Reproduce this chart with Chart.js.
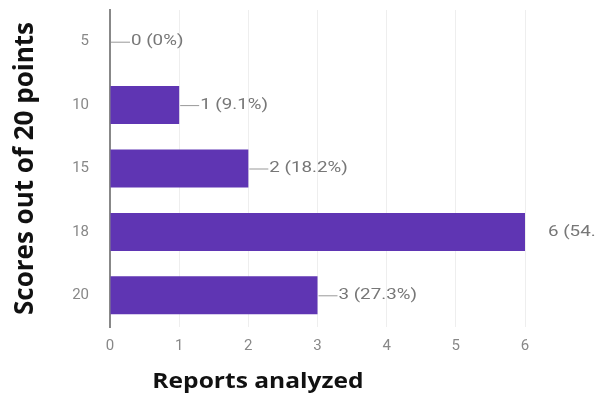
<!doctype html>
<html lang="en">
<head>
    <meta charset="UTF-8">
    <title>Scores</title>
    <style>
        html, body { margin: 0; padding: 0; background: #fff; }
        #wrap { width: 596px; height: 403px; }
    </style>
</head>
<body>

<div id="wrap">
    <canvas id="bar-chart" width="596" height="403"></canvas>
</div>

<script src="https://cdn.jsdelivr.net/npm/chart.js@4/dist/chart.umd.min.js"></script>
<script>
    const scores = ['5', '10', '15', '18', '20'];
    const reports = [0, 1, 2, 6, 3];
    const percents = ['0%', '9.1%', '18.2%', '54.5%', '27.3%'];
    const xTicks = [0, 1, 2, 3, 4, 5, 6];
    const xTitle = 'Reports analyzed';

    // draw text stretched a little wider, the labels in this chart run wide
    function wideText(ctx, text, x, y, sx) {
        ctx.save();
        ctx.translate(x, y);
        ctx.scale(sx, 1);
        ctx.fillText(text, 0, 0);
        ctx.restore();
    }

    // value labels with a short leader line, like google forms summaries
    const valueLabels = {
        id: 'valueLabels',
        afterDatasetsDraw(chart) {
            const ctx = chart.ctx;
            const area = chart.chartArea;
            const meta = chart.getDatasetMeta(0);
            ctx.save();
            ctx.font = '15px Roboto';
            ctx.textBaseline = 'middle';
            ctx.textAlign = 'left';
            meta.data.forEach((bar, i) => {
                const text = reports[i] + ' (' + percents[i] + ')';
                const x = bar.x;
                const y = bar.y;
                const w = ctx.measureText(text).width * 1.25;
                ctx.fillStyle = '#777';
                if (x + 22 + w > area.right) {
                    wideText(ctx, text, area.right + 23, y, 1.25);
                    return;
                }
                ctx.strokeStyle = '#999';
                ctx.lineWidth = 1;
                ctx.beginPath();
                ctx.moveTo(x + 1, y + 0.5);
                ctx.lineTo(x + 20, y + 0.5);
                ctx.stroke();
                wideText(ctx, text, x + 21, y, 1.25);
            });

            // horizontal axis title, sits left of the plot centre
            ctx.font = 'bold 21px "Open Sans"';
            ctx.fillStyle = '#111';
            ctx.textAlign = 'center';
            wideText(ctx, xTitle, 258, 382, 1.17);
            ctx.restore();
        }
    };

    new Chart(document.getElementById('bar-chart'), {
        type: 'bar',
        data: {
            labels: scores,
            datasets: [{
                data: reports,
                backgroundColor: '#5f35b3',
                categoryPercentage: 1,
                barPercentage: 0.6
            }]
        },
        options: {
            indexAxis: 'y',
            responsive: false,
            animation: false,
            layout: { padding: { top: 10, right: 71, left: 0, bottom: 0 } },
            plugins: {
                legend: { display: false },
                tooltip: { enabled: false }
            },
            scales: {
                x: {
                    min: 0,
                    max: 6,
                    afterFit(scale) { scale.height = 76; },
                    afterBuildTicks(scale) { scale.ticks = xTicks.map(v => ({ value: v })); },
                    grid: { color: '#eeeeee', drawTicks: false },
                    border: { display: false },
                    ticks: { color: '#888', font: { family: 'Roboto', size: 15 }, padding: 10 }
                },
                y: {
                    afterFit(scale) {
                        scale.width = 110;
                        scale.paddingTop = 0;
                        scale.paddingBottom = 0;
                    },
                    grid: { display: false, drawTicks: false },
                    border: { display: true, color: '#888', width: 2 },
                    ticks: { color: '#888', font: { family: 'Roboto', size: 15 }, padding: 21 },
                    title: {
                        display: true,
                        text: 'Scores out of 20 points',
                        color: '#111',
                        font: { family: 'Open Sans', size: 26, weight: 'bold' },
                        padding: { top: 10, bottom: 0 }
                    }
                }
            }
        },
        plugins: [valueLabels]
    });
</script>
</body>
</html>
